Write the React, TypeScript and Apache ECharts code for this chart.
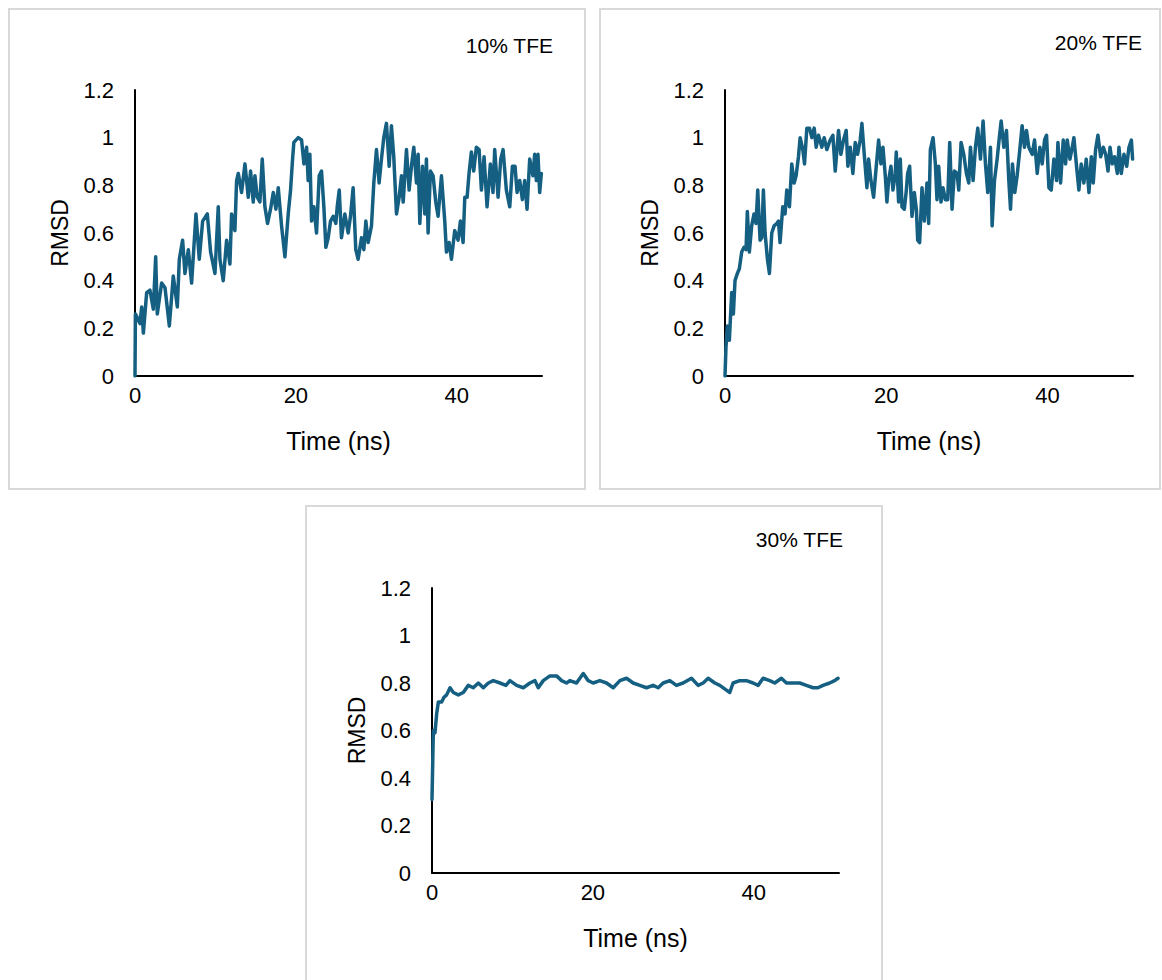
import React, { useEffect, useRef } from "react";
import * as echarts from "echarts";

// RMSD trajectories (ns, nm) for three TFE concentrations
const time10 = [0, 0.05, 0.21, 0.62, 0.83, 1.04, 1.45, 1.86, 2.28, 2.57, 2.77, 3.31, 3.73, 4.27, 4.76, 5.26, 5.51, 5.92, 6.21, 6.63, 7.04, 7.58, 7.99, 8.41, 8.99, 9.4, 9.94, 10.35, 10.56, 10.97, 11.39, 11.8, 12.01, 12.42, 12.63, 12.84, 13.25, 13.67, 14.08, 14.37, 14.7, 14.91, 15.2, 15.53, 15.82, 16.15, 16.48, 16.85, 17.19, 17.52, 17.81, 18.22, 18.64, 19.05, 19.34, 19.59, 19.75, 20.29, 20.71, 21.0, 21.33, 21.53, 21.74, 21.95, 22.24, 22.57, 22.9, 23.19, 23.48, 23.73, 24.02, 24.31, 24.64, 24.97, 25.14, 25.39, 25.67, 26.09, 26.5, 26.79, 27.12, 27.45, 27.74, 28.16, 28.45, 28.7, 28.99, 29.4, 29.69, 30.02, 30.35, 30.64, 30.93, 31.26, 31.6, 31.88, 32.17, 32.51, 32.84, 33.13, 33.34, 33.75, 34.08, 34.37, 34.66, 34.99, 35.2, 35.41, 35.74, 36.03, 36.23, 36.44, 36.73, 37.06, 37.39, 37.68, 38.1, 38.51, 38.72, 39.05, 39.34, 39.75, 40.17, 40.46, 40.79, 41.0, 41.29, 41.53, 41.82, 42.11, 42.44, 42.78, 43.07, 43.4, 43.77, 44.18, 44.51, 44.72, 45.14, 45.47, 45.76, 46.17, 46.59, 46.92, 47.25, 47.5, 47.83, 48.16, 48.45, 48.74, 49.07, 49.48, 49.69, 49.9, 50.1, 50.31, 50.52];
const rmsd10 = [0, 0.26, 0.25, 0.22, 0.29, 0.18, 0.35, 0.36, 0.28, 0.5, 0.26, 0.39, 0.37, 0.21, 0.42, 0.29, 0.49, 0.57, 0.43, 0.53, 0.39, 0.68, 0.49, 0.65, 0.68, 0.52, 0.43, 0.71, 0.49, 0.4, 0.57, 0.47, 0.68, 0.61, 0.82, 0.85, 0.77, 0.89, 0.75, 0.86, 0.73, 0.84, 0.75, 0.73, 0.91, 0.71, 0.64, 0.7, 0.77, 0.7, 0.79, 0.63, 0.5, 0.68, 0.78, 0.91, 0.98, 1.0, 0.99, 0.89, 0.96, 0.82, 0.93, 0.65, 0.71, 0.6, 0.84, 0.86, 0.71, 0.54, 0.58, 0.65, 0.67, 0.64, 0.71, 0.78, 0.58, 0.68, 0.6, 0.67, 0.79, 0.53, 0.49, 0.58, 0.53, 0.65, 0.56, 0.63, 0.81, 0.95, 0.81, 0.91, 1.0, 1.06, 0.88, 1.05, 0.92, 0.68, 0.75, 0.84, 0.73, 0.95, 0.78, 0.88, 0.96, 0.81, 0.93, 0.64, 0.88, 0.68, 0.91, 0.6, 0.86, 0.84, 0.73, 0.67, 0.84, 0.65, 0.52, 0.56, 0.49, 0.61, 0.57, 0.65, 0.56, 0.75, 0.75, 0.85, 0.94, 0.86, 0.96, 0.95, 0.78, 0.92, 0.71, 0.89, 0.77, 0.95, 0.75, 0.91, 0.95, 0.78, 0.71, 0.88, 0.88, 0.77, 0.82, 0.74, 0.82, 0.7, 0.91, 0.84, 0.93, 0.82, 0.93, 0.77, 0.85];

const time20 = [0, 0.12, 0.29, 0.54, 0.83, 1.04, 1.24, 1.53, 1.78, 2.07, 2.36, 2.61, 2.77, 3.02, 3.31, 3.6, 3.85, 4.06, 4.35, 4.56, 4.76, 4.97, 5.26, 5.51, 5.8, 6.09, 6.42, 6.63, 6.83, 7.16, 7.45, 7.66, 7.99, 8.28, 8.57, 8.82, 9.11, 9.32, 9.65, 9.86, 10.15, 10.48, 10.77, 11.06, 11.31, 11.6, 12.01, 12.3, 12.63, 13.04, 13.38, 13.67, 14.08, 14.37, 14.7, 15.03, 15.24, 15.53, 15.86, 16.15, 16.44, 16.77, 16.98, 17.27, 17.6, 17.81, 18.1, 18.43, 18.76, 19.05, 19.34, 19.59, 19.88, 20.08, 20.29, 20.58, 20.83, 21.12, 21.24, 21.53, 21.74, 21.95, 22.24, 22.49, 22.65, 22.9, 23.19, 23.48, 23.73, 23.9, 24.14, 24.43, 24.72, 25.05, 25.26, 25.47, 25.8, 26.09, 26.29, 26.5, 26.79, 27.04, 27.33, 27.62, 27.87, 28.16, 28.45, 28.78, 28.99, 29.28, 29.61, 29.94, 30.23, 30.44, 30.77, 31.06, 31.35, 31.68, 32.01, 32.3, 32.59, 32.92, 33.13, 33.42, 33.75, 33.99, 34.25, 34.58, 34.91, 35.2, 35.41, 35.65, 35.94, 36.23, 36.56, 36.85, 37.14, 37.39, 37.68, 38.1, 38.39, 38.72, 39.05, 39.34, 39.63, 39.88, 40.17, 40.46, 40.79, 41.12, 41.29, 41.62, 41.95, 42.24, 42.44, 42.78, 43.07, 43.27, 43.6, 43.89, 44.18, 44.51, 44.8, 45.14, 45.43, 45.67, 45.96, 46.25, 46.59, 46.92, 47.21, 47.5, 47.75, 48.03, 48.32, 48.66, 48.86, 49.15, 49.48, 49.82, 50.1, 50.4, 50.55];
const rmsd20 = [0, 0.12, 0.21, 0.15, 0.35, 0.26, 0.4, 0.43, 0.45, 0.52, 0.54, 0.53, 0.69, 0.52, 0.63, 0.68, 0.64, 0.78, 0.57, 0.58, 0.78, 0.6, 0.49, 0.43, 0.6, 0.63, 0.64, 0.65, 0.56, 0.71, 0.68, 0.78, 0.71, 0.89, 0.81, 0.84, 0.92, 1.0, 0.95, 0.89, 1.04, 1.04, 1.0, 1.04, 0.96, 1.01, 0.96, 1.0, 0.95, 0.99, 1.01, 0.86, 1.03, 0.93, 0.99, 1.03, 0.88, 0.96, 0.85, 0.98, 0.93, 0.99, 1.06, 0.93, 0.79, 0.91, 0.82, 0.75, 0.88, 0.99, 0.89, 0.96, 0.84, 0.73, 0.82, 0.88, 0.78, 0.85, 0.94, 0.73, 0.91, 0.71, 0.7, 0.78, 0.85, 0.88, 0.67, 0.77, 0.7, 0.57, 0.56, 0.79, 0.65, 0.81, 0.64, 0.95, 1.0, 0.89, 0.74, 0.88, 0.73, 0.79, 0.74, 0.74, 0.98, 0.7, 0.86, 0.85, 0.78, 0.98, 0.93, 0.85, 0.81, 0.96, 0.82, 0.96, 1.04, 0.91, 1.07, 0.89, 0.77, 0.96, 0.63, 0.82, 0.91, 0.99, 1.07, 0.96, 1.03, 0.82, 0.7, 0.89, 0.77, 0.84, 0.95, 1.05, 0.96, 1.03, 0.96, 0.93, 0.99, 0.85, 0.96, 0.89, 0.99, 1.01, 0.79, 0.78, 0.91, 0.82, 0.98, 0.81, 0.99, 0.89, 0.99, 0.91, 0.96, 1.0, 0.88, 0.78, 0.89, 0.81, 0.91, 0.77, 0.92, 0.81, 0.95, 1.01, 0.92, 0.96, 0.93, 0.86, 0.96, 0.89, 0.92, 0.85, 0.96, 0.85, 0.93, 0.88, 0.96, 0.99, 0.91];

const time30 = [0, 0.17, 0.37, 0.58, 0.79, 1.2, 1.49, 1.82, 2.24, 2.65, 3.27, 3.89, 4.51, 5.13, 5.76, 6.38, 7.0, 7.62, 8.45, 9.19, 9.69, 10.52, 11.35, 12.17, 12.8, 13.21, 13.83, 14.66, 15.49, 16.11, 16.73, 17.14, 17.97, 18.8, 19.42, 20.04, 20.87, 21.7, 22.53, 23.36, 24.18, 25.01, 25.84, 26.67, 27.49, 28.12, 28.74, 29.57, 30.39, 31.22, 32.26, 33.09, 33.71, 34.33, 35.16, 35.78, 36.6, 37.02, 37.43, 38.26, 39.09, 39.92, 40.54, 41.16, 41.99, 42.61, 43.44, 44.06, 44.89, 45.72, 46.54, 47.37, 47.99, 48.61, 49.44, 50.06, 50.48];
const rmsd30 = [0.31, 0.6, 0.59, 0.67, 0.72, 0.72, 0.74, 0.75, 0.78, 0.76, 0.75, 0.76, 0.79, 0.78, 0.8, 0.78, 0.8, 0.81, 0.8, 0.79, 0.81, 0.79, 0.78, 0.8, 0.81, 0.78, 0.81, 0.83, 0.83, 0.81, 0.8, 0.81, 0.8, 0.84, 0.81, 0.8, 0.81, 0.8, 0.78, 0.81, 0.82, 0.8, 0.79, 0.78, 0.79, 0.78, 0.8, 0.81, 0.79, 0.8, 0.82, 0.79, 0.8, 0.82, 0.8, 0.79, 0.77, 0.76, 0.8, 0.81, 0.81, 0.8, 0.79, 0.82, 0.81, 0.8, 0.82, 0.8, 0.8, 0.8, 0.79, 0.78, 0.78, 0.79, 0.8, 0.81, 0.82];

const panelTitles = ["10% TFE", "20% TFE", "30% TFE"];
const xTicks = [0, 20, 40];
const yTicks = [0, 0.2, 0.4, 0.6, 0.8, 1, 1.2];

const LINE = "#156082";
const FONT = "Liberation Sans, Arial, sans-serif";

// panel frames and plot areas in page pixels
const frames = [
  { x: 9, y: 9, w: 576, h: 480 },
  { x: 600, y: 9, w: 560, h: 480 },
  { x: 306, y: 506, w: 576, h: 480 },
];
const grids = [
  { left: 135, top: 90, width: 407, height: 286 },
  { left: 725, top: 90, width: 408, height: 286 },
  { left: 432, top: 588, width: 407, height: 285 },
];
const titlePos = [
  { right: 553, y: 45 },
  { right: 1142, y: 42 },
  { right: 843, y: 539 },
];

const pair = (xs: number[], ys: number[]) => xs.map((x, i) => [x, ys[i]]);

export default function App() {
  const ref = useRef<HTMLDivElement>(null);

  useEffect(() => {
    if (!ref.current) return;
    const chart = echarts.init(ref.current, undefined, { renderer: "svg" });
    const series = [pair(time10, rmsd10), pair(time20, rmsd20), pair(time30, rmsd30)];

    const graphic: any[] = [];
    frames.forEach((f) => {
      graphic.push({
        type: "rect",
        shape: { x: f.x, y: f.y, width: f.w, height: f.h },
        style: { fill: "#fff", stroke: "#d9d9d9", lineWidth: 2 },
        z: -10,
      });
    });
    titlePos.forEach((t, i) => {
      graphic.push({
        type: "text",
        x: t.right,
        y: t.y,
        style: {
          text: panelTitles[i],
          fill: "#000",
          font: `21px ${FONT}`,
          textAlign: "right",
          textVerticalAlign: "middle",
        },
      });
    });

    chart.setOption({
      animation: false,
      backgroundColor: "#fff",
      textStyle: { fontFamily: FONT },
      graphic,
      grid: grids.map((g) => ({ ...g, containLabel: false })),
      xAxis: grids.map((_, i) => ({
        type: "value",
        gridIndex: i,
        min: 0,
        max: 50.6,
        interval: 20,
        name: "Time (ns)",
        nameLocation: "middle",
        nameGap: 52,
        nameTextStyle: { fontSize: 25, color: "#000", fontFamily: FONT },
        axisLine: { show: true, lineStyle: { color: "#000", width: 2 } },
        axisTick: { show: false },
        splitLine: { show: false },
        axisLabel: {
          fontSize: 22,
          color: "#000",
          margin: 8,
          formatter: (v: number) => (xTicks.includes(v) ? String(v) : ""),
        },
      })),
      yAxis: grids.map((_, i) => ({
        type: "value",
        gridIndex: i,
        min: 0,
        max: 1.2,
        interval: 0.2,
        name: "RMSD",
        nameLocation: "middle",
        nameGap: 64,
        nameTextStyle: { fontSize: 23, color: "#000", fontFamily: FONT },
        axisLine: { show: true, lineStyle: { color: "#000", width: 2 } },
        axisTick: { show: false },
        splitLine: { show: false },
        axisLabel: {
          fontSize: 22,
          color: "#000",
          margin: 21,
          formatter: (v: number) => {
            const t = yTicks.find((y) => Math.abs(y - v) < 1e-6);
            return t === undefined ? "" : String(t);
          },
        },
      })),
      series: series.map((d, i) => ({
        type: "line",
        xAxisIndex: i,
        yAxisIndex: i,
        data: d,
        showSymbol: false,
        symbol: "none",
        lineStyle: { color: LINE, width: 3.5, join: "round", cap: "round" },
        z: 3,
      })),
    });
    return () => chart.dispose();
  }, []);

  return (
    <div
      ref={ref}
      style={{ position: "absolute", left: 0, top: 0, width: 1162, height: 980, background: "#fff" }}
    />
  );
}
